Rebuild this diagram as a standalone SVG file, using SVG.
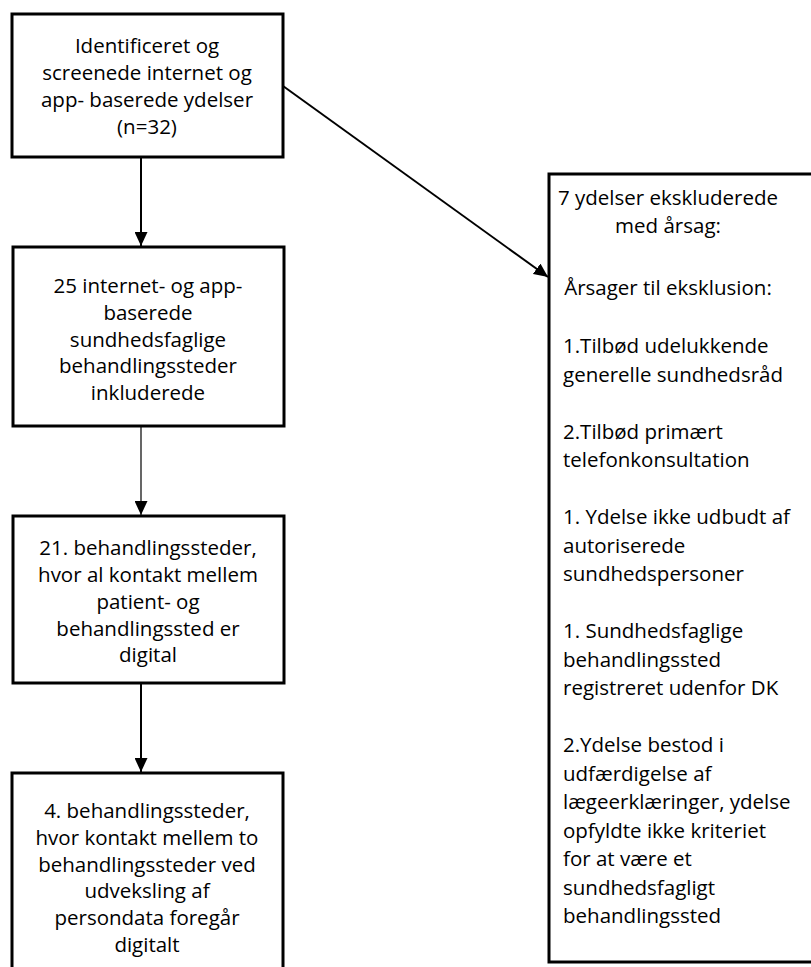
<svg xmlns="http://www.w3.org/2000/svg" width="811" height="967" viewBox="0 0 811 967">
<style>
.box{fill:#fff;stroke:#000;stroke-width:3}
.t{font-family:"Open Sans","Noto Sans","Liberation Sans",sans-serif;font-size:20.5px;fill:#000}
.c{text-anchor:middle}
.con{stroke:#000;fill:none}
.thick{stroke-width:2}
.thin{stroke-width:1.2}
</style>
<defs>
<marker id="ah" markerUnits="userSpaceOnUse" markerWidth="14" markerHeight="13" viewBox="0 0 14 13" refX="14" refY="6.5" orient="auto">
<path d="M0,0 L14,6.5 L0,13 z" fill="#000"/>
</marker>
</defs>
<rect width="811" height="967" fill="#fff"/>
<g id="connectors">
<line class="con thick" x1="141" y1="157" x2="141" y2="246" marker-end="url(#ah)"/>
<line class="con thin" x1="141" y1="426" x2="141" y2="515" marker-end="url(#ah)"/>
<line class="con thick" x1="141" y1="683" x2="141" y2="772" marker-end="url(#ah)"/>
<line class="con thick" x1="283" y1="86" x2="548" y2="277" marker-end="url(#ah)"/>
</g>
<g id="n1">
<rect class="box" x="12" y="14" width="271" height="143"/>
<text class="t c" x="147" y="53">Identificeret og</text>
<text class="t c" x="147" y="80">screenede internet og</text>
<text class="t c" x="147" y="107">app- baserede ydelser</text>
<text class="t c" x="147" y="134">(n=32)</text>
</g>
<g id="n2">
<rect class="box" x="13" y="247" width="271" height="179"/>
<text class="t c" x="148" y="293">25 internet- og app-</text>
<text class="t c" x="148" y="320">baserede</text>
<text class="t c" x="148" y="347">sundhedsfaglige</text>
<text class="t c" x="148" y="373">behandlingssteder</text>
<text class="t c" x="148" y="400">inkluderede</text>
</g>
<g id="n3">
<rect class="box" x="13" y="516" width="271" height="167"/>
<text class="t c" x="148" y="555">21. behandlingssteder,</text>
<text class="t c" x="148" y="582">hvor al kontakt mellem</text>
<text class="t c" x="148" y="609">patient- og</text>
<text class="t c" x="148" y="636">behandlingssted er</text>
<text class="t c" x="148" y="662">digital</text>
</g>
<g id="n4">
<rect class="box" x="12" y="773" width="271" height="230"/>
<text class="t c" x="147" y="818">4. behandlingssteder,</text>
<text class="t c" x="147" y="845">hvor kontakt mellem to</text>
<text class="t c" x="147" y="872">behandlingssteder ved</text>
<text class="t c" x="147" y="898">udveksling af</text>
<text class="t c" x="147" y="925">persondata foregår</text>
<text class="t c" x="147" y="952">digitalt</text>
</g>
<g id="n5">
<rect class="box" x="549" y="174" width="275" height="788"/>
<text class="t c" x="668" y="205">7 ydelser ekskluderede</text>
<text class="t c" x="668" y="233">med årsag:</text>
<text class="t c" x="668" y="295">Årsager til eksklusion:</text>
<text class="t" x="563" y="353">1.Tilbød udelukkende</text>
<text class="t" x="563" y="381.5">generelle sundhedsråd</text>
<text class="t" x="563" y="438.5">2.Tilbød primært</text>
<text class="t" x="563" y="467">telefonkonsultation</text>
<text class="t" x="563" y="524">1. Ydelse ikke udbudt af</text>
<text class="t" x="563" y="552.5">autoriserede</text>
<text class="t" x="563" y="581">sundhedspersoner</text>
<text class="t" x="563" y="638">1. Sundhedsfaglige</text>
<text class="t" x="563" y="666.5">behandlingssted</text>
<text class="t" x="563" y="695">registreret udenfor DK</text>
<text class="t" x="563" y="752">2.Ydelse bestod i</text>
<text class="t" x="563" y="780.5">udfærdigelse af</text>
<text class="t" x="563" y="809">lægeerklæringer, ydelse</text>
<text class="t" x="563" y="837.5">opfyldte ikke kriteriet</text>
<text class="t" x="563" y="866">for at være et</text>
<text class="t" x="563" y="894.5">sundhedsfagligt</text>
<text class="t" x="563" y="923">behandlingssted</text>
</g>
</svg>
